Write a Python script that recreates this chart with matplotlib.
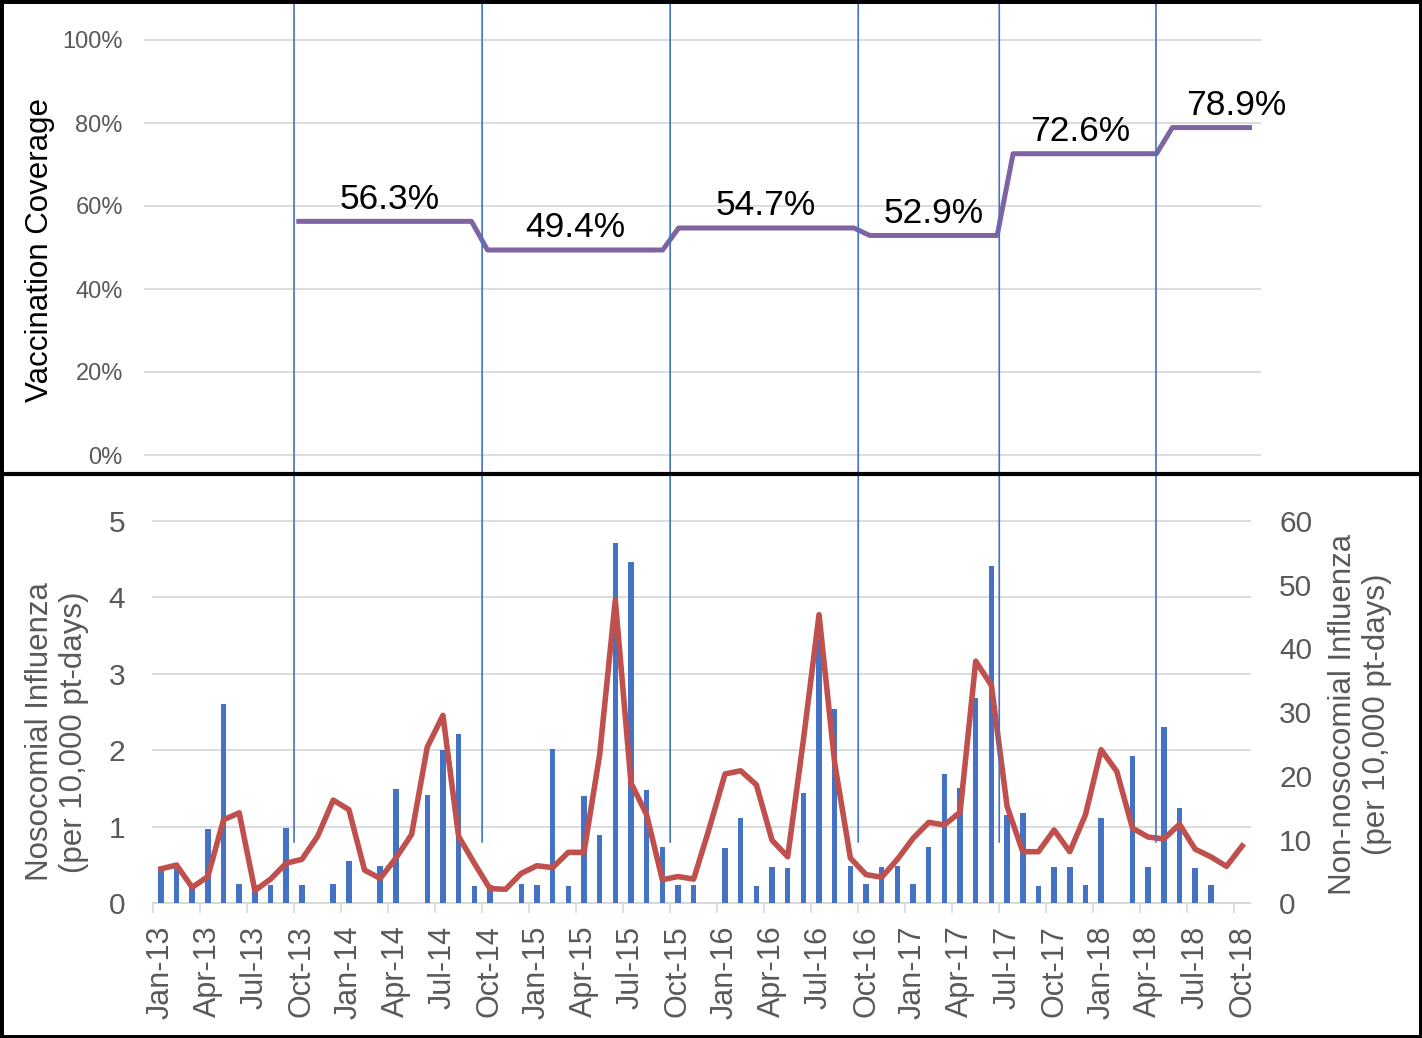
import matplotlib
matplotlib.use("Agg")
import matplotlib.pyplot as plt
import numpy as np
import pandas as pd
from matplotlib.transforms import blended_transform_factory
from matplotlib.patches import ConnectionPatch, Rectangle
from matplotlib.lines import Line2D
from matplotlib.ticker import FuncFormatter, FixedLocator

plt.rcParams['font.family'] = ['Liberation Sans', 'DejaVu Sans']

# ---------------- data ----------------
months = pd.date_range('2013-01-01', '2018-10-01', freq='MS')
month_labels = [m.strftime('%b-%y') for m in months]

# Nosocomial influenza (per 10,000 pt-days), monthly bars (left axis)
nosocomial = [0.46, 0.53, 0.25, 0.97, 2.61, 0.25, 0.24, 0.24, 0.99, 0.24,
              0.00, 0.25, 0.55, 0.00, 0.49, 1.49, 0.00, 1.42, 2.00, 2.22,
              0.23, 0.24, 0.00, 0.25, 0.24, 2.02, 0.22, 1.40, 0.89, 4.71,
              4.47, 1.48, 0.74, 0.24, 0.24, 0.00, 0.72, 1.12, 0.23, 0.48,
              0.46, 1.44, 3.45, 2.54, 0.49, 0.25, 0.48, 0.49, 0.25, 0.74,
              1.69, 1.51, 2.69, 4.41, 1.16, 1.18, 0.23, 0.48, 0.48, 0.24,
              1.12, 0.00, 1.92, 0.47, 2.31, 1.25, 0.46, 0.24, 0.00, 0.00]

# Non-nosocomial influenza (per 10,000 pt-days), monthly line (right axis)
non_nosocomial = [5.4, 6.0, 2.5, 4.2, 13.1, 14.2, 2.0, 3.8, 6.3, 6.9,
                  10.5, 16.2, 14.7, 5.2, 3.9, 7.1, 10.8, 24.5, 29.5, 10.5,
                  6.3, 2.3, 2.2, 4.7, 5.9, 5.6, 8.0, 8.0, 23.3, 47.6,
                  18.9, 13.9, 3.7, 4.2, 3.8, 11.8, 20.3, 20.8, 18.6, 9.9,
                  7.3, 25.6, 45.3, 22.0, 7.1, 4.5, 4.1, 6.9, 10.2, 12.7,
                  12.3, 14.3, 38.0, 34.2, 15.2, 8.1, 8.1, 11.5, 8.1, 13.9,
                  24.1, 20.7, 11.8, 10.4, 10.1, 12.4, 8.5, 7.3, 5.8, 9.0]

# Vaccination coverage by campaign season (start month) in %
season_start = ['2013-10', '2014-10', '2015-10', '2016-10', '2017-07', '2018-05']
coverage = [56.3, 49.4, 54.7, 52.9, 72.6, 78.9]

left_ticks = [0, 1, 2, 3, 4, 5]
right_ticks = [0, 10, 20, 30, 40, 50, 60]
top_ticks = [0.0, 0.2, 0.4, 0.6, 0.8, 1.0]

# ---------------- figure ----------------
W, H = 1422, 1038
fig = plt.figure(figsize=(W / 100, H / 100), dpi=100)
fig.patch.set_facecolor('white')

def px_axes(l, t, r, b):
    return fig.add_axes([l / W, 1 - b / H, (r - l) / W, (b - t) / H])

GRID = '#D9D9D9'
TXT = '#595959'
BLUE = '#4472C4'
RED = '#C0504D'
PURPLE = '#8064A2'

n = len(months)
x = np.arange(n)

# ---------------- top panel ----------------
ax_top = px_axes(145, 40, 1260, 455)
start_idx = [months.get_loc(pd.Timestamp(s + '-01')) for s in season_start]
cov_month = np.full(n, np.nan)
for i, s in enumerate(start_idx):
    e = start_idx[i + 1] if i + 1 < len(start_idx) else n
    cov_month[s:e] = coverage[i] / 100.0

ax_top.plot(x, cov_month, color=PURPLE, lw=3.6, solid_capstyle='butt', zorder=3)
label_dx = [4, 0, 0, 0, -3, 17]
for i, s in enumerate(start_idx):
    e = start_idx[i + 1] - 1 if i + 1 < len(start_idx) else n - 1
    mid = (s + e) / 2.0
    ax_top.annotate(f'{coverage[i]:.1f}%', (mid, coverage[i] / 100.0),
                    xytext=(label_dx[i], 9), textcoords='offset points',
                    ha='center', va='baseline', fontsize=25.5, color='black')

ax_top.set_xlim(-0.5, n - 0.5)
ax_top.set_ylim(0, 1)
ax_top.yaxis.set_major_locator(FixedLocator(top_ticks))
ax_top.yaxis.set_major_formatter(FuncFormatter(lambda v, p: f'{v*100:.0f}%'))
ax_top.set_xticks([])
for sp in ax_top.spines.values():
    sp.set_visible(False)
ax_top.grid(axis='y', color=GRID, lw=1.3, zorder=0)
for gl in ax_top.get_ygridlines():
    gl.set_clip_on(False)
ax_top.tick_params(axis='y', length=0, labelsize=17, labelcolor=TXT, pad=16)
ax_top.set_facecolor('none')

# ---------------- bottom panel ----------------
ax = px_axes(153, 521, 1250, 903.3)
ax2 = ax.twinx()

ax.bar(x, nosocomial, width=0.35, color=BLUE, zorder=3)
ax2.plot(x, non_nosocomial, color=RED, lw=4.0, zorder=4)

ax.set_xlim(-0.5, n - 0.5)
ax.set_ylim(0, 5)
ax2.set_ylim(0, 60)
ax.set_yticks(left_ticks)
ax2.set_yticks(right_ticks)

ax.set_xticks(x[::3])
ax.set_xticklabels(month_labels[::3], rotation=90)
ax.set_xticks(np.arange(-0.5, n - 0.5, 3), minor=True)
ax.tick_params(axis='x', which='major', length=0, labelsize=22, labelcolor=TXT, pad=16)
ax.tick_params(axis='x', which='minor', length=7, color=GRID, width=1.2)
ax.tick_params(axis='y', length=0, labelsize=21.5, labelcolor=TXT, pad=20)
ax2.tick_params(axis='y', length=0, labelsize=21.5, labelcolor=TXT, pad=21)

for a in (ax, ax2):
    for sp in a.spines.values():
        sp.set_visible(False)
ax.spines['bottom'].set_visible(True)
ax.spines['bottom'].set_color(GRID)
ax.spines['bottom'].set_linewidth(1.3)
ax.grid(axis='y', color=GRID, lw=1.3, zorder=0)
for gl in ax.get_ygridlines():
    gl.set_clip_on(False)
ax.set_axisbelow(True)

# vertical season markers spanning both panels
blend = blended_transform_factory(ax.transData, fig.transFigure)
for s in start_idx:
    xv = s - 0.5
    con = ConnectionPatch(xyA=(xv, 0.8), coordsA=ax.transData,
                          xyB=(xv, 1 - 4 / H), coordsB=blend,
                          color=BLUE, lw=1.2, zorder=5)
    fig.add_artist(con)

# axis titles
fig.text(40 / W, 1 - 250 / H, 'Vaccination Coverage', rotation=90,
         ha='center', va='center', fontsize=22.5, color='black')
fig.text(57 / W, 1 - 732 / H, 'Nosocomial Influenza\n(per 10,000 pt-days)',
         rotation=90, ha='center', va='center', fontsize=22.5, color=TXT,
         multialignment='center', linespacing=1.15)
fig.text(1360 / W, 1 - 714 / H, 'Non-nosocomial Influenza\n(per 10,000 pt-days)',
         rotation=90, ha='center', va='center', fontsize=22.5, color=TXT,
         multialignment='center', linespacing=1.15)

# panel frames
fig.add_artist(Rectangle((0, 0), 1, 1, transform=fig.transFigure, fill=False,
                         edgecolor='black', lw=5, zorder=10))
fig.add_artist(Line2D([0, 1], [1 - 473.5 / H] * 2, transform=fig.transFigure,
                      color='black', lw=3, zorder=10))

fig.savefig('out.png', dpi=100)
